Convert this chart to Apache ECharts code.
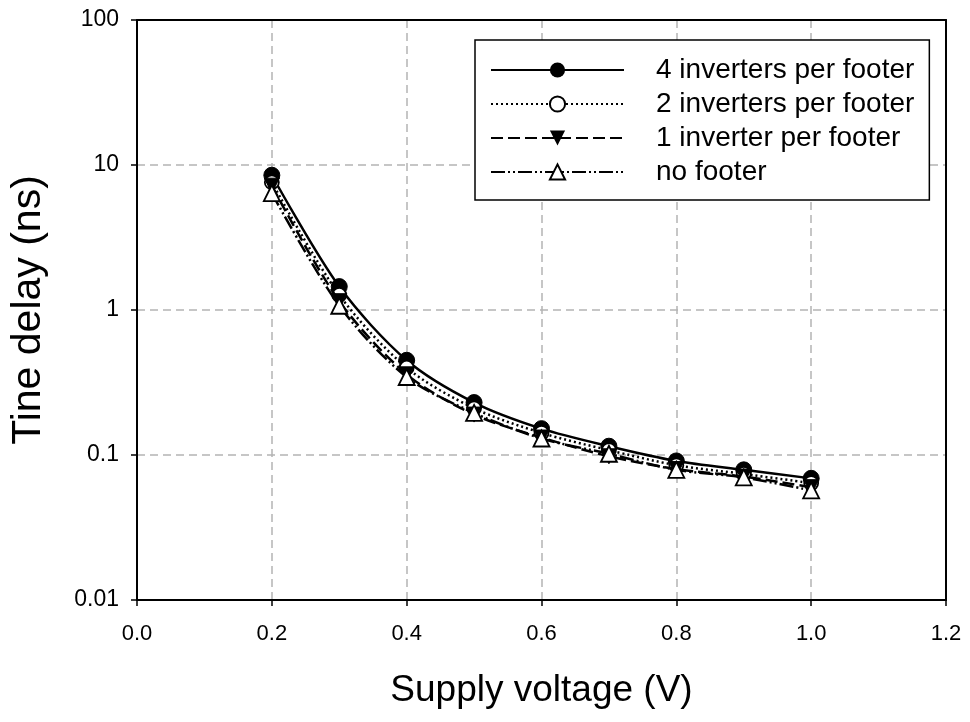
<!DOCTYPE html>
<html>
<head>
<meta charset="utf-8">
<script src="https://cdn.jsdelivr.net/npm/echarts@6/dist/echarts.min.js"></script>
<style>html,body{margin:0;padding:0;background:#fff}#c{width:970px;height:722px}</style>
</head>
<body>
<div id="c"></div>
<script>
const voltages = [0.2, 0.3, 0.4, 0.5, 0.6, 0.7, 0.8, 0.9, 1.0];
const inv4 = [8.5, 1.45, 0.45, 0.23, 0.152, 0.115, 0.091, 0.079, 0.069];
const inv2 = [7.6, 1.27, 0.40, 0.21, 0.142, 0.108, 0.085, 0.074, 0.064];
const inv1 = [7.2, 1.15, 0.36, 0.19, 0.132, 0.098, 0.080, 0.071, 0.060];
const noFooter = [6.4, 1.07, 0.345, 0.195, 0.130, 0.102, 0.079, 0.070, 0.057];
const seriesNames = ['4 inverters per footer', '2 inverters per footer', '1 inverter per footer', 'no footer'];
const yTicks = [0.01, 0.1, 1, 10, 100];

const pair = arr => voltages.map((v, i) => [v, arr[i]]);
const FONT = '"Liberation Sans", Arial, sans-serif';
const frameAxis = { show: true, axisLine: { show: true, onZero: false, lineStyle: { color: '#000', width: 2 } }, axisTick: { show: false }, axisLabel: { show: false }, splitLine: { show: false } };

const chart = echarts.init(document.getElementById('c'));
chart.setOption({
  animation: false,
  backgroundColor: '#fff',
  grid: { left: 137, right: 24, top: 20, bottom: 122 },
  legend: {
    orient: 'vertical', left: 475, top: 40,
    padding: [16, 15, 14, 15],
    borderColor: '#000', borderWidth: 1.5, backgroundColor: '#fff',
    itemWidth: 133, itemHeight: 19, itemGap: 6,
    textStyle: { fontFamily: FONT, fontSize: 28, color: '#000', padding: [0, 0, 0, 27], lineHeight: 28 },
    data: seriesNames
  },
  xAxis: [{
    type: 'value', min: 0, max: 1.2, interval: 0.2,
    name: 'Supply voltage (V)', nameLocation: 'middle', nameGap: 72,
    nameTextStyle: { fontFamily: FONT, fontSize: 37, color: '#000' },
    axisLine: { show: true, onZero: false, lineStyle: { color: '#000', width: 2 } },
    axisTick: { show: true, length: 6, lineStyle: { color: '#000', width: 1.5 } },
    axisLabel: { fontFamily: FONT, fontSize: 22, color: '#000', margin: 23, formatter: v => v.toFixed(1) },
    splitLine: { show: true, lineStyle: { color: '#b4b4b4', width: 1.5, type: [8, 5] } }
  }, Object.assign({ type: 'value', position: 'top', min: 0, max: 1.2, interval: 0.2 }, frameAxis)],
  yAxis: [{
    type: 'log', logBase: 10, min: yTicks[0], max: yTicks[yTicks.length - 1],
    name: 'Tine delay (ns)', nameLocation: 'middle', nameGap: 88,
    nameTextStyle: { fontFamily: FONT, fontSize: 41, color: '#000' },
    axisLine: { show: true, onZero: false, lineStyle: { color: '#000', width: 2 } },
    axisTick: { show: true, length: 6, lineStyle: { color: '#000', width: 1.5 } },
    axisLabel: { fontFamily: FONT, fontSize: 23, color: '#000', margin: 18, formatter: v => String(+v.toPrecision(3)) },
    splitLine: { show: true, lineStyle: { color: '#b4b4b4', width: 1.5, type: [8, 5] } }
  }, Object.assign({ type: 'log', logBase: 10, position: 'right', min: yTicks[0], max: yTicks[yTicks.length - 1] }, frameAxis)],
  series: [
    { name: seriesNames[0], type: 'line', smooth: 0.3, data: pair(inv4), symbol: 'circle', symbolSize: 16,
      itemStyle: { color: '#000', borderColor: '#000' }, lineStyle: { color: '#000', width: 2.5, type: 'solid' }, z: 3 },
    { name: seriesNames[1], type: 'line', smooth: 0.3, data: pair(inv2), symbol: 'circle', symbolSize: 14,
      itemStyle: { color: '#fff', borderColor: '#000', borderWidth: 1.8 }, lineStyle: { color: '#000', width: 2.5, type: [2, 3] }, z: 4 },
    { name: seriesNames[2], type: 'line', smooth: 0.3, data: pair(inv1), symbol: 'triangle', symbolRotate: 180, symbolSize: 15,
      itemStyle: { color: '#000', borderColor: '#000' }, lineStyle: { color: '#000', width: 2.5, type: [12, 5] }, z: 5 },
    { name: seriesNames[3], type: 'line', smooth: 0.3, data: pair(noFooter), symbol: 'triangle', symbolSize: 16,
      itemStyle: { color: '#fff', borderColor: '#000', borderWidth: 1.8 }, lineStyle: { color: '#000', width: 2.5, type: [14, 3, 2, 3, 2, 3] }, z: 6 }
  ]
});
</script>
</body>
</html>
